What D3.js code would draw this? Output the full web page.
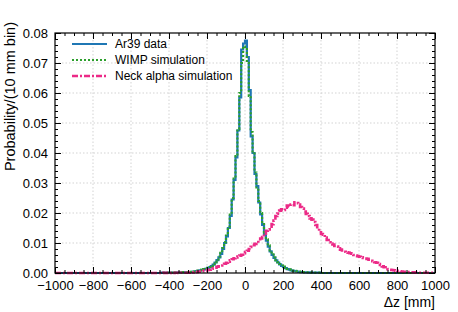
<!DOCTYPE html>
<html>
<head>
<meta charset="utf-8">
<script src="https://cdn.jsdelivr.net/npm/d3@7"></script>
<style>
  body { margin: 0; background: #fff; }
  svg { font-family: "Liberation Sans", Arial, Helvetica, sans-serif; }
</style>
</head>
<body>
<div id="chart"></div>
<script>
// --- Data ---
const xDomain = [-1000, 1000];
const binWidth = 10;
const yDomain = [0, 0.08];
const xTicks = [-1000, -800, -600, -400, -200, 0, 200, 400, 600, 800, 1000];
const yTicks = [0, 0.01, 0.02, 0.03, 0.04, 0.05, 0.06, 0.07, 0.08];
const seriesNames = ["Ar39 data", "WIMP simulation", "Neck alpha simulation"];
const xLabel = "\u0394z [mm]";
const yLabel = "Probability/(10 mm bin)";

// bin contents, 10 mm bins from -1000 to 1000
const ar39 = [
  0,0,0,0,0,0,0,0,0,0, 0,0,0,0,0,0,0,0,0,0, 0,0,0,0,0,0,0,0,0,0,
  0,0,0,0,0,0,0,0,0,0, 0,0,0,0,0,0,0,0,0,0, 0,0,0,0,0,0,0.0001,0.0001,0.0001,0.0001,
  0.0001,0.0001,0.0001,0.0001,0.0002,0.0002,0.0002,0.0002,0.0003,0.0003,
  0.0003,0.0003,0.0004,0.0005,0.0006,0.0007,0.0009,0.0010,0.0012,0.0014,
  0.0016,0.0019,0.0023,0.0028,0.0035,0.0043,0.0052,0.0064,0.0080,0.0100,
  0.0122,0.0150,0.0190,0.0245,0.0310,0.0385,0.0475,0.0585,0.0745,0.0765,
  0.0775,0.0720,0.0610,0.0455,0.0400,0.0330,0.0290,0.0235,0.0195,0.0160,
  0.0130,0.0108,0.0088,0.0072,0.0060,0.0050,0.0042,0.0035,0.0029,0.0024,
  0.0020,0.0016,0.0013,0.0011,0.0009,0.0007,0.0006,0.0005,0.0004,0.0003,
  0.0003,0.0002,0.0002,0.0002,0.0001,0.0001,0.0001,0.0001,0.0001,0.0001,
  0,0,0,0,0,0,0,0,0,0, 0,0,0,0,0,0,0,0,0,0, 0,0,0,0,0,0,0,0,0,0,
  0,0,0,0,0,0,0,0,0,0, 0,0,0,0,0,0,0,0,0,0, 0,0,0,0,0,0,0,0,0,0
];

const wimp = [
  0,0,0,0,0,0,0,0,0,0, 0,0,0,0,0,0,0,0,0,0, 0,0,0,0,0,0,0,0,0,0,
  0,0,0,0,0,0,0,0,0,0, 0,0,0,0,0,0,0,0,0,0, 0,0,0,0,0,0,0.0001,0.0001,0.0001,0.0001,
  0.0001,0.0001,0.0001,0.0002,0.0002,0.0002,0.0002,0.0003,0.0003,0.0003,
  0.0003,0.0004,0.0004,0.0005,0.0006,0.0008,0.0009,0.0011,0.0013,0.0015,
  0.0017,0.0020,0.0024,0.0030,0.0036,0.0045,0.0055,0.0067,0.0083,0.0103,
  0.0125,0.0155,0.0195,0.0250,0.0315,0.0390,0.0480,0.0600,0.0700,0.0755,
  0.0750,0.0700,0.0590,0.0470,0.0405,0.0335,0.0285,0.0240,0.0200,0.0163,
  0.0135,0.0112,0.0092,0.0075,0.0062,0.0052,0.0043,0.0036,0.0030,0.0025,
  0.0021,0.0017,0.0014,0.0012,0.0010,0.0008,0.0007,0.0006,0.0005,0.0004,
  0.0003,0.0003,0.0002,0.0002,0.0002,0.0001,0.0001,0.0001,0.0001,0.0001,
  0,0,0,0,0,0,0,0,0,0, 0,0,0,0,0,0,0,0,0,0, 0,0,0,0,0,0,0,0,0,0,
  0,0,0,0,0,0,0,0,0,0, 0,0,0,0,0,0,0,0,0,0, 0,0,0,0,0,0,0,0,0,0
];

const neckAlpha = [
  0,0,0,0,0,0,0,0,0,0, 0,0,0,0,0,0,0,0,0,0, 0,0,0,0,0,0,0,0,0,0,
  0,0,0,0,0,0,0,0,0,0, 0,0,0,0,0,0,0,0,0,0, 0,0,0,0,0,0,0,0.0001,0,0.0001,
  0,0.0001,0,0.0001,0.0001,0,0.0001,0.0001,0.0001,0.0001,
  0.0001,0.0002,0.0002,0.0003,0.0003,0.0004,0.0005,0.0006,0.0007,0.0008,
  0.0010,0.0011,0.0014,0.0016,0.0018,0.0021,0.0022,0.0025,0.0028,0.0031,
  0.0034,0.0038,0.0042,0.0046,0.0049,0.0052,0.0055,0.0058,0.0061,0.0066,
  0.0070,0.0074,0.0080,0.0087,0.0093,0.0097,0.0101,0.0108,0.0115,0.0120,
  0.0131,0.0141,0.0145,0.0150,0.0163,0.0175,0.0190,0.0198,0.0208,0.0212,
  0.0210,0.0218,0.0225,0.0222,0.0228,0.0226,0.0236,0.0233,0.0228,0.0220,
  0.0215,0.0205,0.0197,0.0190,0.0182,0.0178,0.0170,0.0160,0.0148,0.0136,
  0.0130,0.0128,0.0118,0.0110,0.0102,0.0098,0.0095,0.0090,0.0088,0.0082,
  0.0078,0.0075,0.0071,0.0069,0.0068,0.0066,0.0064,0.0060,0.0058,0.0056,
  0.0054,0.0052,0.0050,0.0048,0.0047,0.0044,0.0041,0.0039,0.0036,0.0034,
  0.0030,0.0027,0.0022,0.0019,0.0016,0.0013,0.0011,0.0010,0.0009,0.0008,
  0.0007,0.0006,0.0005,0.0004,0.0004,0.0003,0.0003,0.0002,0.0002,0.0002,
  0.0001,0.0001,0.0001,0.0001,0.0001,0.0001,0.0001,0.0001,0.0001,0.0001
];

// --- Setup ---
const W = 458, H = 312;
const margin = { top: 33, right: 23, bottom: 39, left: 55 };
const width = W - margin.left - margin.right;
const height = H - margin.top - margin.bottom;

const svg = d3.select("#chart").append("svg")
    .attr("width", W)
    .attr("height", H);

const g = svg.append("g")
    .attr("transform", `translate(${margin.left},${margin.top})`);

const xScale = d3.scaleLinear().domain(xDomain).range([0, width]);
const yScale = d3.scaleLinear().domain(yDomain).range([height, 0]);

// grid
const grid = g.append("g").attr("class", "grid");
grid.selectAll("line.gx")
    .data(xTicks.slice(1, -1))
    .join("line")
    .attr("x1", d => xScale(d)).attr("x2", d => xScale(d))
    .attr("y1", 0).attr("y2", height);
grid.selectAll("line.gy")
    .data(yTicks.slice(1, -1))
    .join("line")
    .attr("class", "gy")
    .attr("x1", 0).attr("x2", width)
    .attr("y1", d => yScale(d)).attr("y2", d => yScale(d));
grid.selectAll("line")
    .attr("stroke", "#c8c8c8")
    .attr("stroke-width", 0.8)
    .attr("stroke-dasharray", "1.5,2");

// --- Histograms ---
function stepPoints(values) {
    const pts = values.map((v, i) => [xDomain[0] + i * binWidth, v]);
    pts.push([xDomain[0] + values.length * binWidth, values[values.length - 1]]);
    return pts;
}
const stepLine = d3.line()
    .x(d => xScale(d[0]))
    .y(d => yScale(d[1]))
    .curve(d3.curveStepAfter);

const styles = [
    { color: "#1f77b4", width: 2.2, dash: null },
    { color: "#2ca02c", width: 2.2, dash: "2,2" },
    { color: "#ec2a87", width: 2.6, dash: "6,2,2,2" }
];
const allSeries = [ar39, wimp, neckAlpha];

allSeries.forEach((vals, i) => {
    g.append("path")
        .attr("d", stepLine(stepPoints(vals)))
        .attr("fill", "none")
        .attr("stroke", styles[i].color)
        .attr("stroke-width", styles[i].width)
        .attr("stroke-dasharray", styles[i].dash);
});

// --- Axes (ticks pointing inward, all four sides) ---
const xMinor = d3.range(xDomain[0], xDomain[1] + 1, 50);
const yMinor = d3.range(0, 0.0801, 0.002);

function styleAxis(sel) {
    sel.select(".domain").remove();
    sel.selectAll(".tick line").attr("stroke", "#000");
    sel.selectAll(".tick text").attr("fill", "#000").style("font-size", "13px");
}

g.append("g").attr("transform", `translate(0,${height})`)
    .call(d3.axisBottom(xScale).tickValues(xMinor).tickSize(-3).tickFormat(""))
    .call(styleAxis);
g.append("g").attr("transform", `translate(0,${height})`)
    .call(d3.axisBottom(xScale).tickValues(xTicks).tickSize(-6).tickPadding(8)
        .tickFormat(d => d < 0 ? "\u2212" + Math.abs(d) : d))
    .call(styleAxis);
g.append("g")
    .call(d3.axisTop(xScale).tickValues(xMinor).tickSize(-3).tickFormat(""))
    .call(styleAxis);
g.append("g")
    .call(d3.axisTop(xScale).tickValues(xTicks).tickSize(-6).tickFormat(""))
    .call(styleAxis);

g.append("g")
    .call(d3.axisLeft(yScale).tickValues(yMinor).tickSize(-3).tickFormat(""))
    .call(styleAxis);
g.append("g")
    .call(d3.axisLeft(yScale).tickValues(yTicks).tickSize(-6).tickPadding(7)
        .tickFormat(d3.format(".2f")))
    .call(styleAxis);
g.append("g").attr("transform", `translate(${width},0)`)
    .call(d3.axisRight(yScale).tickValues(yMinor).tickSize(-3).tickFormat(""))
    .call(styleAxis);
g.append("g").attr("transform", `translate(${width},0)`)
    .call(d3.axisRight(yScale).tickValues(yTicks).tickSize(-6).tickFormat(""))
    .call(styleAxis);

// frame
g.append("rect")
    .attr("x", 0).attr("y", 0)
    .attr("width", width).attr("height", height)
    .attr("fill", "none")
    .attr("stroke", "#000")
    .attr("stroke-width", 1.2);

// axis titles
svg.append("text")
    .attr("x", margin.left + width)
    .attr("y", 307)
    .attr("text-anchor", "end")
    .style("font-size", "14px")
    .text(xLabel);

svg.append("text")
    .attr("transform", `translate(15,${margin.top - 11}) rotate(-90)`)
    .attr("text-anchor", "end")
    .style("font-size", "14.5px")
    .text(yLabel);

// --- Legend ---
const legend = svg.append("g").attr("transform", "translate(72,44)");
seriesNames.forEach((name, i) => {
    const row = legend.append("g").attr("transform", `translate(0,${i * 16})`);
    row.append("line")
        .attr("x1", 0).attr("x2", 35)
        .attr("y1", 0).attr("y2", 0)
        .attr("stroke", styles[i].color)
        .attr("stroke-width", styles[i].width)
        .attr("stroke-dasharray", styles[i].dash);
    row.append("text")
        .attr("x", 43)
        .attr("y", 0)
        .attr("dy", "0.35em")
        .style("font-size", "12px")
        .text(name);
});
</script>
</body>
</html>
